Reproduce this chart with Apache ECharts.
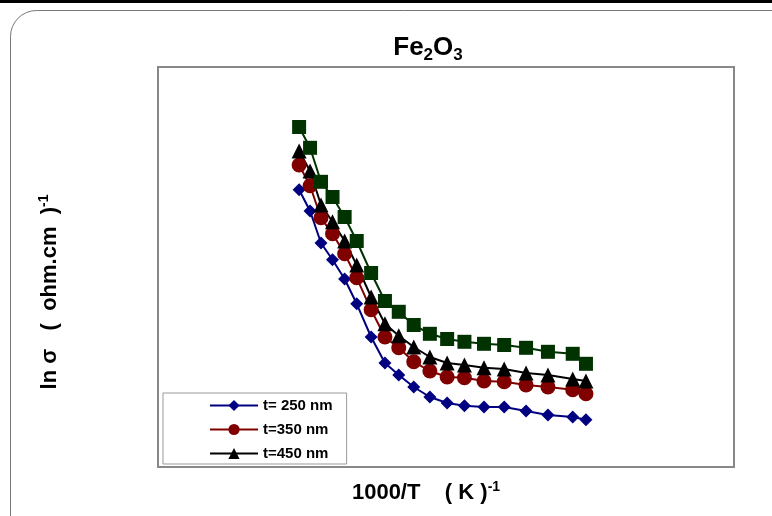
<!DOCTYPE html>
<html>
<head>
<meta charset="utf-8">
<script src="https://cdn.jsdelivr.net/npm/echarts@6/dist/echarts.min.js"></script>
<style>html,body{margin:0;padding:0;background:#fff;}#c{width:772px;height:516px;}</style>
</head>
<body>
<div id="c"></div>
<script>
// x positions (relative units along 1000/T axis; no tick labels in source)
var xValues = [2.45, 2.64, 2.83, 3.03, 3.24, 3.45, 3.70, 3.94, 4.18, 4.44, 4.72, 5.02, 5.32, 5.66, 6.01, 6.39, 6.77, 7.20, 7.43];
var seriesNames = ['t= 250 nm', 't=350 nm', 't=450 nm', 't=550 nm'];
var y250 = [6.93, 6.40, 5.60, 5.18, 4.70, 4.08, 3.25, 2.60, 2.30, 2.00, 1.75, 1.60, 1.53, 1.50, 1.50, 1.40, 1.30, 1.25, 1.18];
var y350 = [7.55, 7.03, 6.23, 5.83, 5.33, 4.73, 3.93, 3.25, 2.98, 2.63, 2.40, 2.25, 2.23, 2.15, 2.13, 2.05, 2.00, 1.93, 1.83];
var y450 = [7.90, 7.40, 6.55, 6.13, 5.65, 5.05, 4.25, 3.58, 3.28, 3.00, 2.75, 2.60, 2.55, 2.48, 2.45, 2.35, 2.30, 2.20, 2.15];
var y550 = [8.50, 7.98, 7.13, 6.75, 6.25, 5.65, 4.85, 4.15, 3.88, 3.55, 3.33, 3.20, 3.13, 3.08, 3.05, 2.98, 2.88, 2.83, 2.58];

function pairs(ys){ return ys.map(function(v,i){ return [xValues[i], v]; }); }

var colors = ['#000080', '#800000', '#000000', '#003300'];
var symbols = ['diamond', 'circle', 'triangle', 'rect'];
var sizes = [13, 15, 15, 14];
var ySets = [y250, y350, y450, y550];

var series = ySets.map(function(ys, i){
  return {
    name: seriesNames[i],
    type: 'line',
    data: pairs(ys),
    symbol: symbols[i],
    symbolSize: sizes[i],
    showSymbol: true,
    lineStyle: {color: colors[i], width: 2},
    itemStyle: {color: colors[i]},
    emphasis: {disabled: true},
    animation: false
  };
});

var font = '"Liberation Sans", Arial, sans-serif';
var supStyle = {fontFamily: font, fontWeight: 'bold', fontSize: 14, verticalAlign: 'top', padding: [0, 0, 12, 0], fill: '#000'};
var chart = echarts.init(document.getElementById('c'), null, {renderer: 'canvas'});
chart.setOption({
  backgroundColor: '#fff',
  animation: false,
  legend: {
    data: seriesNames.slice(0, 3),
    orient: 'vertical',
    left: 163, top: 393,
    padding: [5, 14, 3, 46],
    itemWidth: 48, itemHeight: 14, itemGap: 9,
    backgroundColor: '#fff',
    borderColor: '#999', borderWidth: 1,
    textStyle: {fontFamily: font, fontWeight: 'bold', fontSize: 15, color: '#000'}
  },
  grid: {
    show: true, left: 158, top: 67, width: 576, height: 400,
    borderColor: '#888', borderWidth: 2, backgroundColor: 'transparent'
  },
  xAxis: {
    type: 'value', min: 0, max: 10,
    axisLine: {show: false}, axisTick: {show: false}, axisLabel: {show: false}, splitLine: {show: false}
  },
  yAxis: {
    type: 'value', min: 0, max: 10,
    axisLine: {show: false}, axisTick: {show: false}, axisLabel: {show: false}, splitLine: {show: false}
  },
  graphic: [
    {type: 'rect', shape: {x: 0, y: 0, width: 772, height: 3}, style: {fill: '#000'}, silent: true, z: 100},
    {type: 'rect', shape: {x: 10.5, y: 10.5, width: 800, height: 560, r: 26}, style: {fill: 'none', stroke: '#777', lineWidth: 1}, silent: true, z: -1},
    {type: 'text', x: 428, y: 48, silent: true, z: 50,
      style: {text: 'Fe{sub|2}O{sub|3}', align: 'center', verticalAlign: 'middle',
        fontFamily: font, fontWeight: 'bold', fontSize: 26, fill: '#000',
        rich: {sub: {fontFamily: font, fontWeight: 'bold', fontSize: 17, verticalAlign: 'bottom', padding: [15, 0, 0, 0], fill: '#000'}}}},
    {type: 'text', x: 426, y: 493, silent: true, z: 50,
      style: {text: '1000/T    ( K ){sup|-1}', align: 'center', verticalAlign: 'middle',
        fontFamily: font, fontWeight: 'bold', fontSize: 22, fill: '#000', rich: {sup: supStyle}}},
    {type: 'text', x: 50, y: 292, rotation: Math.PI / 2, silent: true, z: 50,
      style: {text: 'ln σ   (  ohm.cm  ){sup|-1}', align: 'center', verticalAlign: 'middle',
        fontFamily: font, fontWeight: 'bold', fontSize: 22, fill: '#000', rich: {sup: supStyle}}}
  ],
  series: series
});
</script>
</body>
</html>
